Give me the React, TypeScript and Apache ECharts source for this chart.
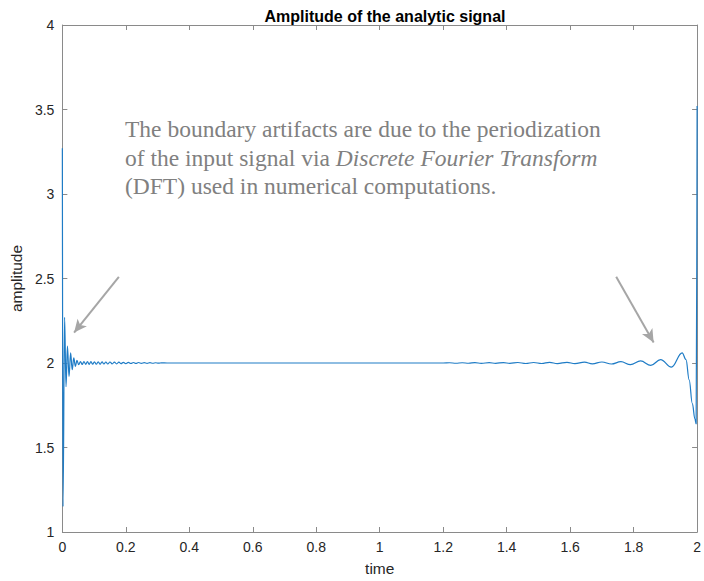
import React, { useEffect, useRef } from "react";
import * as echarts from "echarts";

// time (s) and amplitude, left boundary region
const leftTimes = [
  0, 0.002, 0.007, 0.0115, 0.016, 0.021, 0.026, 0.031, 0.036, 0.041, 0.046,
  0.0515, 0.057, 0.0625, 0.068, 0.0735, 0.079, 0.0845, 0.09, 0.0955, 0.101,
  0.107, 0.113, 0.119, 0.125, 0.131, 0.137, 0.143, 0.15, 0.157, 0.164, 0.171,
  0.178, 0.185, 0.192, 0.2, 0.208, 0.216, 0.224, 0.232, 0.24, 0.249, 0.258,
  0.267, 0.276, 0.285, 0.294, 0.303, 0.312, 0.33,
];
const leftAmps = [
  3.27, 1.15, 2.27, 1.86, 2.1, 1.92, 2.06, 1.96, 2.03, 1.98, 2.015,
  1.99, 2.009, 1.991, 2.009, 1.992, 2.008, 1.992, 2.008, 1.993, 2.007,
  1.993, 2.007, 1.993, 2.007, 1.994, 2.006, 1.994, 2.006, 1.995, 2.005, 1.995,
  2.005, 1.996, 2.004, 1.996, 2.004, 1.997, 2.003, 1.997, 2.003, 1.998, 2.002,
  1.998, 2.002, 1.9985, 2.0015, 1.999, 2.001, 2.0,
];
// flat middle region
const midTimes = [0.5, 0.7, 0.9, 1.0, 1.1, 1.2];
const midAmps = [2.0, 2.0, 2.0, 2.0, 2.0, 2.0];
// right boundary region
const rightTimes = [
  1.22, 1.24, 1.26, 1.28, 1.3, 1.32, 1.345, 1.365, 1.39, 1.41, 1.435, 1.46,
  1.485, 1.51, 1.535, 1.56, 1.59, 1.615, 1.645, 1.67, 1.7, 1.73, 1.76, 1.79,
  1.822, 1.854, 1.885, 1.919, 1.953, 1.965, 1.975, 1.985, 1.993, 1.997, 2.0,
];
const rightAmps = [
  2.0015, 1.9985, 2.0015, 1.9985, 2.002, 1.998, 2.002, 1.998, 2.0025, 1.9975, 2.003, 1.997,
  2.003, 1.997, 2.0035, 1.9965, 2.004, 1.996, 2.005, 1.995, 2.006, 1.994, 2.008, 1.99,
  2.012, 1.986, 2.02, 1.976, 2.06, 2.02, 1.9, 1.76, 1.67, 1.64, 3.52,
];

// annotation arrows (data coordinates): [fromT, fromA, toT, toA]
const arrowLeft = [0.178, 2.51, 0.037, 2.18];
const arrowRight = [1.745, 2.51, 1.863, 2.122];

const xTicks = { min: 0, max: 2, interval: 0.2 };
const yTicks = { min: 1, max: 4, interval: 0.5 };

export default function App() {
  const ref = useRef<HTMLDivElement>(null);
  useEffect(() => {
    if (!ref.current) return;
    const chart = echarts.init(ref.current, undefined, { renderer: "svg" });
    const times = [...leftTimes, ...midTimes, ...rightTimes];
    const amps = [...leftAmps, ...midAmps, ...rightAmps];
    const data = times.map((t, i) => [t, amps[i]]);
    const axisColor = "#8a8a8a";
    const textColor = "#262626";
    const font = "Liberation Sans";
    const fmt = (v: number) => String(Math.round(v * 10) / 10);
    chart.setOption({
      animation: false,
      title: {
        text: "Amplitude of the analytic signal",
        left: 380,
        textAlign: "center",
        top: 3,
        textStyle: { fontFamily: font, fontSize: 16, fontWeight: "bold", color: "#000" },
      },
      grid: { left: 58, right: 2, top: 25, bottom: 48, containLabel: false },
      xAxis: [
        {
          type: "value",
          ...xTicks,
          name: "time",
          nameLocation: "middle",
          nameGap: 28,
          nameTextStyle: { fontFamily: font, fontSize: 15.5, color: textColor },
          axisLine: { show: true, lineStyle: { color: axisColor } },
          axisTick: { show: true, inside: true, length: 5, lineStyle: { color: axisColor } },
          axisLabel: { fontFamily: font, fontSize: 14, color: textColor, margin: 8, formatter: fmt },
          splitLine: { show: false },
        },
        {
          type: "value",
          ...xTicks,
          position: "top",
          axisLine: { show: true, onZero: false, lineStyle: { color: axisColor } },
          axisTick: { show: true, inside: true, length: 5, lineStyle: { color: axisColor } },
          axisLabel: { show: false },
          splitLine: { show: false },
        },
      ],
      yAxis: [
        {
          type: "value",
          ...yTicks,
          name: "amplitude",
          nameLocation: "middle",
          nameGap: 34,
          nameRotate: 90,
          nameTextStyle: { fontFamily: font, fontSize: 15.5, color: textColor },
          axisLine: { show: true, lineStyle: { color: axisColor } },
          axisTick: { show: true, inside: true, length: 5, lineStyle: { color: axisColor } },
          axisLabel: { fontFamily: font, fontSize: 14, color: textColor, margin: 8, formatter: fmt },
          splitLine: { show: false },
        },
        {
          type: "value",
          ...yTicks,
          position: "right",
          axisLine: { show: true, onZero: false, lineStyle: { color: axisColor } },
          axisTick: { show: true, inside: true, length: 5, lineStyle: { color: axisColor } },
          axisLabel: { show: false },
          splitLine: { show: false },
        },
      ],
      series: [
        {
          type: "line",
          data,
          showSymbol: false,
          smooth: 0.4,
          smoothMonotone: "x",
          clip: false,
          lineStyle: { color: "#1f7cc6", width: 1.2 },
          z: 3,
        },
        {
          type: "line",
          data: [],
          markLine: {
            silent: true,
            symbol: ["none", "arrow"],
            symbolSize: [9, 13],
            label: { show: false },
            lineStyle: { color: "#a6a6a6", width: 2, type: "solid" },
            data: [
              [{ coord: [arrowLeft[0], arrowLeft[1]] }, { coord: [arrowLeft[2], arrowLeft[3]] }],
              [{ coord: [arrowRight[0], arrowRight[1]] }, { coord: [arrowRight[2], arrowRight[3]] }],
            ],
          },
        },
      ],
      graphic: [
        {
          type: "text",
          left: 125,
          top: 115,
          silent: true,
          style: {
            text:
              "The boundary artifacts are due to the periodization\nof the input signal via {i|Discrete Fourier Transform}\n(DFT) used in numerical computations.",
            fill: "#808080",
            fontFamily: "Liberation Serif",
            fontSize: 23.5,
            lineHeight: 28.5,
            rich: {
              i: {
                fontStyle: "italic",
                fontFamily: "Liberation Serif",
                fontSize: 23.5,
                lineHeight: 28.5,
                fill: "#808080",
              },
            },
          },
        },
      ],
    });
    return () => chart.dispose();
  }, []);
  return <div ref={ref} style={{ width: 704, height: 581, position: "absolute", left: 0, top: 0 }} />;
}
